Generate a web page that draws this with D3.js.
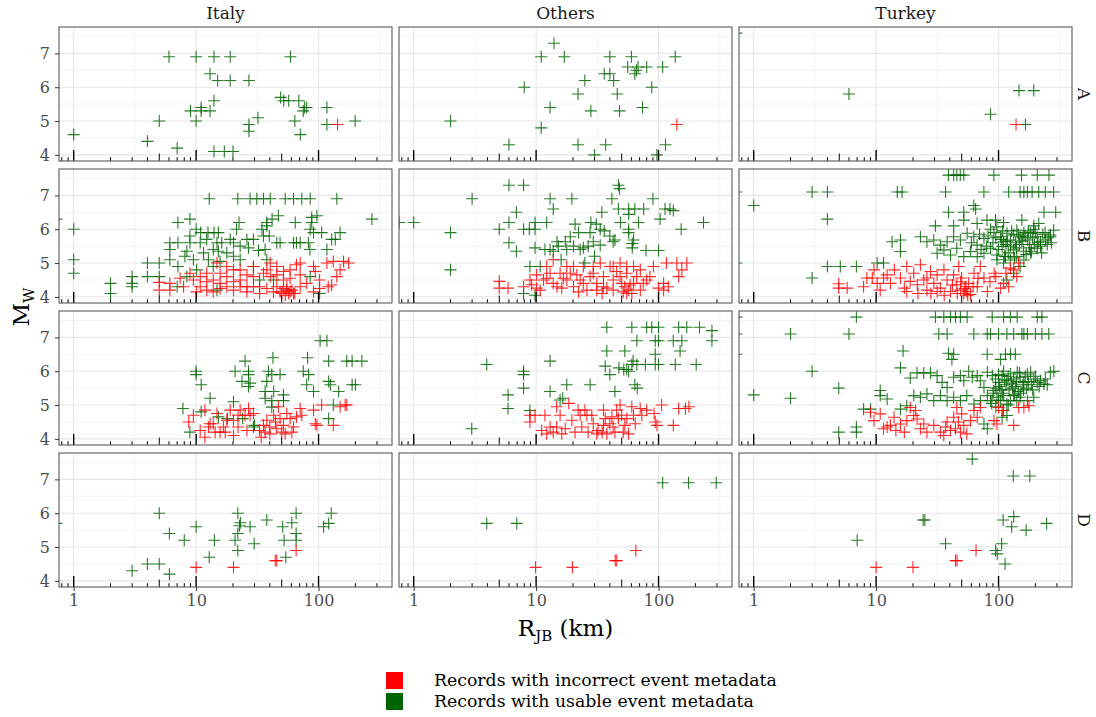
<!DOCTYPE html>
<html>
<head>
<meta charset="utf-8">
<script src="https://cdn.jsdelivr.net/npm/d3@7"></script>
<style>
  body { margin: 0; background: #fff; }
  svg text { font-family: "DejaVu Serif", serif; }
</style>
</head>
<body>
<script>
// facets
var regions = ["Italy", "Others", "Turkey"];
var classes = ["A", "B", "C", "D"];
var xTickValues = [1, 10, 100];
var yTickValues = [4, 5, 6, 7];
var legendLabels = ["Records with incorrect event metadata", "Records with usable event metadata"];
var legendColors = ["#ff0000", "#006400"];

// [R_JB km, Mw]
var italyA_usable = [[1,4.6],[6,6.9],[10,6.9],[14,6.9],[19,6.9],[59,6.9],[13,6.4],[15,6.2],[19,6.2],[27,6.2],[14,5.6],[9,5.3],[11,5.4],[11,5.3],[13,5.3],[5,5.0],[10,5.0],[4,4.4],[7,4.2],[14,4.1],[17,4.1],[20,4.1],[27,4.9],[27,4.7],[32,5.1],[49,5.7],[52,5.6],[57,5.6],[69,5.6],[75,5.3],[80,5.4],[77,5.4],[64,5.0],[71,4.6],[117,5.4],[117,4.9],[199,5.0]];
var italyA_incorrect = [[143,4.9]];

var othersA_usable = [[14,7.3],[11,6.9],[17,6.9],[40,6.9],[60,6.9],[137,6.9],[56,6.6],[68,6.6],[66,6.5],[64,6.4],[80,6.6],[108,6.6],[36,6.4],[40,6.4],[43,6.2],[25,6.2],[8,6.0],[88,6.0],[22,5.8],[46,5.8],[13,5.4],[28,5.3],[48,5.3],[74,5.4],[2,5.0],[11,4.8],[6,4.3],[22,4.3],[37,4.3],[114,4.3],[30,4.0],[97,4.0]];
var othersA_incorrect = [[141,4.9]];

var turkeyA_usable = [[0.72,7.6],[6,5.8],[147,5.9],[194,5.9],[86,5.2],[166,4.9]];
var turkeyA_incorrect = [[139,4.9]];

var italyB_usable = [[1,6.0],[1,5.1],[1,4.7],[0.72,6.3],[2,4.4],[2,4.1],[3,4.6],[3,4.4],[3,4.3],[4,4.6],[4,5.0],[5,5.0],[6.1,5.6],[7.1,5.6],[6.1,5.4],[6.1,5.1],[7.1,6.2],[8.9,6.3],[8.9,5.8],[8.1,5.2],[7.1,4.9],[5,4.6],[10,6.0],[10.9,5.9],[12.5,5.9],[14,5.9],[15.2,5.9],
  [12.8,6.9],[21.9,6.9],[27.6,6.9],[31.3,6.9],[35.5,6.9],[40.3,6.9],[53.4,6.9],[62.5,6.9],[73,6.9],[85.5,6.9],[141,6.9],[273,6.3],
  [47,6.4],[97,6.4],[88,6.35],[22.4,6.2],[37.8,6.2],[41.7,6.3],[64.5,6.2],[88,6.2],
  [21.4,6.0],[34.5,6.0],[37.8,6.1],[85.5,6.0],[91,5.9],[106,5.9],[150,5.9],
  [26,5.7],[29.4,5.7],[35.5,5.8],[39.6,5.8],[45.6,5.6],[48.5,5.6],[62.5,5.6],[66,5.6],[70.8,5.6],[82.6,5.6],[128,5.7],[137,5.7],[85,5.4],[117,5.4],
  [10.8,5.6],[12.2,5.7],[14.8,5.6],[16.2,5.6],[19,5.7],[20.2,5.6],[22.9,5.5],[26.8,5.45],[13.8,5.4],[11.5,5.3],[15.2,5.35],[17.8,5.3],[20.2,5.2],[9.5,5.1],[12.6,5.1],[15.7,5.05],[32.3,5.37],[36.6,5.4],[8.4,5.35],[8.9,5.6],
  [8.4,4.6],[10.1,4.8],[7,4.3],[13.8,4.9],[22.9,5.1],[29.4,4.9],[37.8,5.1],[85.5,4.6],[102,4.1],[42.8,4.5],[33,4.5],[14.8,4.2]];
var italyB_incorrect = [[5,4.43],[5,4.2],[6.1,4.4],[6.1,4.2],[7.9,4.3],[9.5,4.5],[10.8,4.6],[12.2,4.7],[13.8,4.5],[15.7,4.4],[17.8,4.6],[20.2,4.8],[22.9,4.5],[26,4.3],[29.4,4.6],[33,4.3],[37.8,4.8],[40.3,5.0],[45.6,4.9],[51.7,4.5],[55,4.2],[58.6,4.8],[62.5,4.1],[66,4.95],[70.8,5.0],[91,4.9],[117,5.0],[132,5.05],[160,5.05],[176,5.0],[150,4.8],[141,4.6],[102,4.5],[120,4.3],[128,4.35],[94,4.75],
  [45.6,4.3],[48.5,4.15],[50,4.1],[51.7,4.25],[53.4,4.05],[55,4.3],[57,4.1],[58.6,4.15],[60.5,4.2],[64,4.1],
  [10.8,4.3],[12.2,4.2],[13.8,4.15],[15.7,4.25],[17.8,4.3],[20.2,4.2],[22.9,4.3],[26,4.15],[29.4,4.3],[33,4.1],[37.8,4.25],[42.8,4.15],[20.2,4.45],[15.7,4.7],[12.2,4.45],[26,4.65],[29.4,4.9],[22.9,4.8],[17.8,4.9],[14.8,5.0],[35.5,4.7],[40.3,4.6],[45.6,4.65],[51.7,4.75],[58.6,4.55],[70.8,4.65],[80,4.4],[70.8,4.3],[91,4.15],[102,4.25],[8.9,4.7],[7.4,4.55],[10.1,4.15]];

var othersB_usable = [[0.76,6.2],[1,6.2],[2,5.9],[2,4.8],[3,6.9],[6,7.3],[7.9,7.3],[13,6.9],[19.6,6.9],[41.6,6.9],[47,7.3],[48,7.2],[90,6.9],[6.9,6.5],[13.8,6.6],[34.4,6.5],[47,6.6],[57,6.6],[64,6.6],[75.6,6.6],[113,6.6],[124,6.6],[132,6.55],[57,6.44],[103,6.3],[233,6.2],[153,6.0],
  [6,6.2],[9.8,6.2],[12.2,6.2],[5,6.0],[7.9,6.0],[8.8,6.0],[9.8,6.0],[20.8,6.15],[28,6.2],[31,6.15],[48.9,6.2],[68.6,6.2],[57,6.0],[33.4,6.0],[27.6,5.9],[22.2,5.9],[36,5.95],[40,5.8],
  [6,5.6],[6.9,5.35],[9.8,5.45],[11.8,5.4],[13,5.4],[14.8,5.63],[17.3,5.63],[19,5.78],[15.2,5.5],[20.2,5.5],[13.8,5.35],[17.8,5.4],[22.9,5.4],[24.3,5.45],[26.6,5.5],[29.3,5.63],[33.4,5.53],[42.6,5.63],[61,5.58],[61,5.45],[79,5.37],[100,5.37],[44,5.68],[62.6,5.68],[57,5.9],
  [8.9,4.9],[10.8,4.9],[7.9,4.1],[9.8,4.05],[16,5.1],[30,5.2],[25,5.0]];
var othersB_incorrect = [[5,4.46],[5,4.26],[5.9,4.26],[7.9,4.3],[8.9,4.5],[10.1,4.65],[10.8,4.2],[11.5,4.5],[13,4.7],[14.8,4.3],[16.7,4.55],[17.8,4.9],[13.8,5.1],[19,4.7],[20.2,4.3],[22.9,4.5],[24.3,4.9],[26,4.2],[29.3,4.7],[31.3,4.4],[33.4,5.0],[35.5,4.6],[37.8,4.26],[40.2,4.9],[42.6,4.5],[45.5,4.75],[48.5,5.0],[50,4.4],[51.5,4.15],[53,4.3],[55,4.1],[57,4.2],[58.6,4.35],[60.5,4.1],[62.5,4.9],[66.2,4.6],[71,4.2],[80,4.5],[90.8,4.9],[100,4.26],[110,4.4],[120,4.3],[116,5.0],[141,5.0],[155,4.8],[170,5.0],[146,4.6],[110,4.2],
  [9.2,4.36],[10.1,4.26],[12.2,4.55],[13.8,4.4],[15.7,4.7],[17.8,4.5],[21.5,4.65],[24.3,4.4],[27.6,4.6],[31.3,4.2],[35.5,4.3],[42.6,4.2],[48.5,4.6],[55,4.7],[62.5,4.4],[71,4.8],[75,4.4],[85,4.6],[12.2,4.9],[20.2,4.9],[29.3,4.9],[42.6,4.9],[55,4.9],[16.2,4.26],[22.2,4.15],[34.6,4.1]];

var turkeyB_usable = [[0.72,7.1],[0.72,5.0],[1,6.7],[3,7.1],[4,7.1],[4,6.3],[3,4.56],[4,4.9],[5.1,4.9],[6.9,4.9],[10.2,5.0],[11.5,5.0],[14.9,7.1],[16.3,7.1],
  [39,7.6],[43,7.6],[45.6,7.6],[48.7,7.6],[52,7.6],[91.6,7.6],[154,7.6],[207,7.6],[258,7.6],
  [36.9,7.1],[75.9,7.1],[121,7.1],[150,7.1],[161,7.1],[172,7.1],[188,7.1],[213,7.1],[241,7.1],[282,7.1],
  [62.8,6.7],[65,6.6],[39,6.5],[52,6.5],[235,6.5],[293,6.5],
  [30.5,6.1],[43,6.1],[52,6.27],[66.8,6.17],[80.5,6.27],[94.5,6.27],[110,6.2],[155,6.27],[194,6.1],[213,6.17],[282,5.97],[265,5.83],
  [13.5,5.63],[15.8,5.68],[15.8,5.34],[23,5.78],[26,5.63],[29.6,5.68],[33.5,5.53],[38,5.63],[43,5.78],[48.8,5.68],[55.4,5.88],[62.8,5.78],[66.8,5.53],[76,5.73],[86,6.0],[91.7,5.9],[97,6.07],[104,5.78],[110,5.63],[117,5.88],[125,5.68],[133,5.83],[141,5.97],[150,5.78],[161,5.9],[172,5.68],[183,5.88],[194,6.0],[207,5.78],[220,5.63],[241,5.68],[265,5.78],[220,5.5],
  [31.5,5.29],[35.8,5.39],[40.5,5.24],[45.6,5.44],[52,5.19],[59,5.34],[67,5.19],[76,5.29],[86,5.44],[97,5.24],[107,5.49],[114,5.19],[125,5.09],[133,5.39],[141,5.19],[161,5.09],[183,5.29],[207,5.44],[97,5.1],[110,5.0],[150,4.9],[133,4.7],[117,4.5],
  [105,5.7],[115,5.55],[128,5.95],[138,5.6],[145,5.85],[155,5.65],[165,5.8],[178,5.55],[190,5.75],[200,5.9],[230,5.85],[250,5.55],[120,5.3],[140,5.45],[160,5.35],[180,5.45],[100,5.4],[90,5.6],[80,5.5],[70,5.85],
  [112,5.2],[125,5.5],[135,5.15],[148,5.55],[158,5.75],[168,5.25],[175,5.95],[186,5.35],[196,5.55],[210,5.6],[225,5.3],[240,5.9],[255,5.75],[270,5.6],[108,5.95],[118,5.65],[82,5.8],[95,5.75],[72,5.4],[60,5.6]];
var turkeyB_incorrect = [[4.95,4.39],[4.95,4.26],[5.8,4.26],[7.9,4.3],[9.3,4.56],[10.2,4.4],[10.8,4.2],[12.3,4.65],[13.1,4.4],[14.1,4.8],[15.8,4.56],[17,4.26],[17.8,4.9],[19,4.46],[20.3,4.7],[21.7,4.36],[23,4.95],[24.5,4.5],[26,4.2],[27.8,4.75],[29.6,4.4],[31.5,4.65],[33.5,4.26],[35.8,4.8],[38,4.5],[40.5,4.16],[43,4.65],[45.6,4.36],[47.3,4.9],[48.8,4.2],[50,4.56],[52,4.1],[54,4.3],[55,4.16],[57,4.4],[59,4.07],[63,4.7],[67,4.3],[71,4.9],[76,4.56],[81,4.16],[92,4.7],[104,4.26],[110,4.4],[121,4.3],[133,4.8],[146,5.0],[141,4.6],[8.4,4.56],[9.6,4.8],[11.5,4.56],[26,4.56],[31.5,4.16],[17.8,4.16],
  [36,4.05],[42,4.35],[46,4.1],[49,4.45],[53,4.25],[56,4.05],[62,4.3],[28,4.1],[22,4.1],[68,4.55],[85,4.45],[95,4.6],[115,4.7],[125,4.85]];

var italyC_usable = [[103,6.9],[117,6.9],[121,6.3],[170,6.3],[188,6.3],[226,6.3],[25.1,6.3],[42.4,6.4],[81.3,6.4],
  [10,6.0],[10,5.9],[20.8,6.0],[26.8,6.0],[26.8,5.9],[23.7,5.7],[27.6,5.65],[26.8,5.55],[37.8,5.7],[39,6.0],[41.5,5.9],[48.5,5.9],[75,6.0],[83,5.9],[80,5.6],[91,5.4],[121,5.7],[125,5.6],[146,5.4],[188,5.6],[200,5.6],
  [11,5.6],[13,5.2],[20.2,5.1],[36.6,5.4],[43,5.4],[51.7,5.3],[36.6,5.2],[41.5,5.13],[51.7,5.13],[41.5,4.94],[132,5.0],[121,4.6],[7.8,4.9],[11,4.8],[8.9,4.2],[15.2,4.65],[29.4,4.35],[18,4.6],[30,4.4],[24,4.6]];
var italyC_incorrect = [[8.7,4.5],[9.5,4.7],[10.8,4.25],[11.8,4.05],[12.6,4.35],[13.8,4.45],[14.8,4.75],[15.7,4.2],[16.7,4.35],[19,4.85],[20.2,4.55],[22,4.7],[22.9,4.85],[25.1,4.7],[26.8,4.9],[27.6,4.7],[29.4,4.75],[26,4.25],[20.2,4.1],[22,4.35],[33,4.25],[34,4.05],[35.5,4.4],[36.6,4.2],[37.8,4.55],[40,4.35],[40,4.15],[43,4.7],[44.5,4.5],[45.6,4.3],[47,4.95],[48.5,4.6],[50,4.2],[51.7,4.4],[53.4,4.15],[55,4.75],[58.6,4.6],[60.6,4.2],[62.5,4.35],[66,4.65],[70.8,4.9],[73,4.7],[91,4.85],[94,4.45],[97,4.4],[106,5.0],[132,4.4],[150,4.95],[165,5.0],[170,5.0],[11.8,4.85],[13,4.45],[14.3,4.2],[17.3,4.2],[17.8,4.55]];

var othersC_usable = [[2.98,4.3],[3.95,6.2],[5.9,5.3],[5.9,4.9],[7.9,6.0],[7.9,5.9],[7.9,5.5],[13,6.3],[13,5.4],[8.9,4.84],[15.7,5.15],[16.5,5.2],[17.8,5.6],[27.6,5.6],[44,5.4],[64,5.6],[67,5.5],
  [37.8,7.3],[60.5,7.3],[80,7.3],[88,7.3],[100,7.3],[146,7.3],[170,7.3],[216,7.3],[273,7.2],[273,6.9],
  [66.5,6.9],[94,6.9],[100,6.9],[132,6.9],[155,6.9],
  [37.8,6.6],[53,6.6],[94,6.5],[150,6.6],
  [36.7,6.15],[40,5.9],[47.5,6.1],[52,6.05],[55,6.05],[57,6.0],[60.5,6.2],[66.5,6.2],[78,6.2],[94,6.2],[100,6.2],[137,6.2],[203,6.2],[62,6.3]];
var othersC_incorrect = [[8.9,4.7],[8.9,4.5],[9.8,4.7],[11.1,4.25],[11.8,4.7],[12.2,4.15],[13,4.35],[13.8,4.2],[14.7,4.35],[14.7,4.95],[15.7,4.7],[16.2,4.15],[17.3,4.3],[18.5,5.05],[19.6,4.55],[20.8,4.2],[22,4.85],[22.9,4.7],[23.6,4.35],[25,4.85],[26,4.7],[26.6,4.2],[28.5,4.7],[29.3,4.45],[32,4.25],[34.6,4.2],[35.5,4.85],[35.5,4.4],[36.7,4.6],[37.8,4.15],[40,4.45],[41.6,4.65],[42.6,4.35],[44,4.2],[45.5,4.85],[47,4.6],[48.5,5.0],[50,4.7],[51.5,4.2],[53,4.4],[55,4.6],[56.9,4.15],[60.5,4.95],[62.5,4.7],[64.5,4.45],[70.8,4.9],[73,4.7],[80,4.85],[94,4.5],[97,4.4],[106,5.0],[132,4.4],[146,4.9],[166,4.9],[177,4.95],[92,4.75],[31.3,4.15]];

var turkeyC_usable = [[0.72,7.6],[0.72,7.1],[0.72,6.5],[1,5.3],[2,5.2],[2,7.1],[3,6.0],[4.95,5.5],[4.95,4.2],[6.9,4.35],[6.9,4.2],[6.9,7.6],[6,7.1],[16.6,6.6],[15.8,6.1],
  [30.5,7.6],[35.7,7.6],[40.5,7.6],[44.5,7.6],[48.8,7.6],[55.4,7.6],[88.8,7.6],[110,7.6],[125,7.6],[142,7.6],[207,7.6],[226,7.6],
  [32.5,7.1],[38,7.1],[62.8,7.1],[80.8,7.1],[86,7.1],[100,7.1],[117,7.1],[133,7.1],[155,7.1],[161,7.1],[172,7.1],[200,7.1],[226,7.1],[257,7.1],
  [39,6.53],[43,6.5],[41.6,6.35],[80.8,6.5],[104,6.35],[114,6.5],[125,6.5],[137,6.5],[283,6.0],
  [19,5.8],[21.6,5.95],[24.5,5.95],[27.8,5.95],[31.5,5.87],[34.6,5.67],[38,5.52],[43,5.82],[48.8,5.87],[52,5.72],[57,6.0],[61,5.82],[67,5.87],[71,5.72],[76,5.52],[81,5.97],[89,5.87],[94.5,5.77],[100,5.67],[107,5.87],[110,6.0],[117,5.72],[125,5.92],[133,5.77],[142,5.97],[150,5.82],[161,5.67],[172,5.92],[183,5.97],[194,5.77],[207,5.67],[220,5.72],[235,5.62],[241,5.77],[265,5.97],
  [10.8,5.43],[10.8,5.28],[12.3,5.18],[7.9,4.88],[9,4.88],[15.8,4.88],[17.8,4.98],[20.3,5.28],[23,5.23],[26,5.33],[29.6,5.13],[33.5,5.28],[38,5.13],[43,5.23],[48.8,5.13],[55,5.28],[63,5.03],[71,5.13],[81,5.28],[86,5.13],[91.7,5.43],[97,5.23],[104,5.13],[110,5.28],[117,5.03],[125,5.13],[133,5.28],[141,5.13],[150,5.23],[172,5.13],[194,5.23],[110,4.84],[117,4.69],[107,4.64],[76,4.44],[81,4.3],
  [95,5.5],[105,5.45],[115,5.6],[130,5.5],[145,5.4],[120,5.85],[140,5.7],[170,5.5],[185,5.6],[100,5.9],[90,5.35],[160,5.45],
  [102,5.55],[108,5.35],[112,5.75],[122,5.45],[128,5.65],[135,5.3],[138,5.55],[148,5.95],[152,5.35],[158,5.6],[165,5.85],[175,5.7],[190,5.45],[200,5.85],[215,5.55],[250,5.6],[100,5.15],[120,5.0],[95,4.95],[88,5.05]];
var turkeyC_incorrect = [[9.6,4.54],[9,4.79],[10.8,4.74],[11.5,4.3],[12.3,4.35],[13.1,4.4],[14,4.64],[14.5,4.25],[15.8,4.44],[17,4.2],[17.8,4.54],[19,4.93],[20.3,4.69],[21,4.84],[21.6,4.59],[23,4.3],[24.5,4.44],[26,4.2],[29.6,4.4],[33.5,4.2],[35.7,4.1],[37,4.35],[38,4.5],[40.5,4.25],[43,4.64],[44.5,4.3],[45.6,4.93],[47,4.5],[48.8,4.2],[50,4.74],[52,4.4],[55,4.15],[59,4.54],[63,4.84],[67,4.64],[71,4.93],[91.7,4.54],[97,4.44],[100,4.93],[107,4.84],[133,4.4],[146,4.93],[161,4.93],[177,4.98]];

var italyD_usable = [[0.72,5.7],[3,4.3],[4,4.5],[5,4.5],[6.05,4.2],[5,6.0],[6.05,5.4],[8,5.2],[10,5.6],[12.8,4.7],[14.1,5.2],[20.8,5.2],[21.9,6.0],[21.9,5.4],[22.6,5.63],[23,5.72],[21.9,4.9],[27.6,5.6],[29.8,5.1],[37.8,5.8],[51,5.6],[60.5,5.72],[52.3,5.2],[54,4.7],[65.6,6.0],[65.6,5.4],[65.6,5.2],[110,5.6],[121,5.7],[127,6.0]];
var italyD_incorrect = [[10,4.4],[20.2,4.4],[44.3,4.6],[45.6,4.6],[65.6,4.9]];

var othersD_usable = [[3.95,5.7],[6.95,5.7],[108,6.9],[176,6.9],[296,6.9]];
var othersD_incorrect = [[9.9,4.4],[19.8,4.4],[44.3,4.6],[45.6,4.6],[65.3,4.9]];

var turkeyD_usable = [[61,7.6],[132,7.1],[180,7.1],[24.2,5.8],[25,5.8],[7,5.2],[109,5.8],[133,5.9],[128,5.6],[168,5.5],[247,5.7],[36.9,5.1],[106,5.1],[94.6,4.9],[97.5,4.8],[113,4.5]];
var turkeyD_incorrect = [[10,4.4],[20,4.4],[44.5,4.6],[45.8,4.6],[65.5,4.9]];

var panelData = {
  Italy:  {A: [italyA_usable, italyA_incorrect], B: [italyB_usable, italyB_incorrect], C: [italyC_usable, italyC_incorrect], D: [italyD_usable, italyD_incorrect]},
  Others: {A: [othersA_usable, othersA_incorrect], B: [othersB_usable, othersB_incorrect], C: [othersC_usable, othersC_incorrect], D: [othersD_usable, othersD_incorrect]},
  Turkey: {A: [turkeyA_usable, turkeyA_incorrect], B: [turkeyB_usable, turkeyB_incorrect], C: [turkeyC_usable, turkeyC_incorrect], D: [turkeyD_usable, turkeyD_incorrect]}
};

var w = 1096, h = 717;
var mLeft = 59, mTop = 27, pw = 333, ph = 134, gx = 7, gy = 8;

var svg = d3.select("body").append("svg")
    .attr("width", w).attr("height", h)
    .style("background", "#fff");

var x = d3.scaleLog().domain([Math.pow(10, -0.12), Math.pow(10, 2.6)]).range([0, pw]);
var y = d3.scaleLinear().domain([3.82, 7.78]).range([ph, 0]);

var minorX = [Math.pow(10, 0.5), Math.pow(10, 1.5), Math.pow(10, 2.5)];
var minorY = [4.5, 5.5, 6.5, 7.5];

// annotation_logticks values
var logTicks = [];
[0.1, 1, 10, 100].forEach(function (p) {
  for (var k = 1; k <= 9; k++) logTicks.push({v: k * p, k: k});
});
logTicks = logTicks.filter(function (d) { return d.v >= x.domain()[0] && d.v <= x.domain()[1]; });

var cross = "M-6,0H6M0,-6V6";

classes.forEach(function (cls, row) {
  regions.forEach(function (reg, col) {
    var px = mLeft + col * (pw + gx), py = mTop + row * (ph + gy);
    var g = svg.append("g").attr("transform", "translate(" + px + "," + py + ")");
    var clipId = "clip-" + reg + cls;
    g.append("clipPath").attr("id", clipId)
      .append("rect").attr("width", pw).attr("height", ph);

    // grid
    g.selectAll(".gminy").data(minorY).enter().append("line")
      .attr("x1", 0).attr("x2", pw).attr("y1", y).attr("y2", y)
      .attr("stroke", "#ebebeb").attr("stroke-width", 0.6);
    g.selectAll(".gminx").data(minorX).enter().append("line")
      .attr("y1", 0).attr("y2", ph).attr("x1", x).attr("x2", x)
      .attr("stroke", "#ebebeb").attr("stroke-width", 0.6);
    g.selectAll(".gmajy").data(yTickValues).enter().append("line")
      .attr("x1", 0).attr("x2", pw).attr("y1", y).attr("y2", y)
      .attr("stroke", "#e6e6e6").attr("stroke-width", 1.1);
    g.selectAll(".gmajx").data(xTickValues).enter().append("line")
      .attr("y1", 0).attr("y2", ph).attr("x1", x).attr("x2", x)
      .attr("stroke", "#e6e6e6").attr("stroke-width", 1.1);

    var pts = g.append("g").attr("clip-path", "url(#" + clipId + ")");
    var sets = panelData[reg][cls];
    [[sets[0], legendColors[1]], [sets[1], legendColors[0]]].forEach(function (s) {
      pts.selectAll(null).data(s[0]).enter().append("path")
        .attr("d", cross)
        .attr("transform", function (d) { return "translate(" + x(d[0]) + "," + y(d[1]) + ")"; })
        .attr("stroke", s[1]).attr("stroke-width", 1.1).attr("fill", "none")
        .attr("opacity", 0.85);
    });

    // log ticks along the bottom
    g.append("g").attr("clip-path", "url(#" + clipId + ")")
      .selectAll("line").data(logTicks).enter().append("line")
      .attr("x1", function (d) { return x(d.v); }).attr("x2", function (d) { return x(d.v); })
      .attr("y1", ph)
      .attr("y2", function (d) { return ph - (d.k === 1 ? 11 : d.k === 5 ? 7.5 : 3.8); })
      .attr("stroke", "#000").attr("stroke-width", function (d) { return d.k === 1 ? 1.4 : 1; });

    g.append("rect").attr("width", pw).attr("height", ph)
      .attr("fill", "none").attr("stroke", "#5a5a5a").attr("stroke-width", 1.1);

    if (col === 0) {
      var ya = g.append("g").call(d3.axisLeft(y).tickValues(yTickValues).tickFormat(d3.format("d")).tickSize(4).tickPadding(5));
      ya.select(".domain").remove();
      ya.attr("font-family", null).attr("font-size", null);
      ya.selectAll("line").attr("stroke", "#333");
      ya.selectAll("text").attr("fill", "#4d4d4d").style("font-size", "16px");
    }
    if (row === classes.length - 1) {
      var xa = g.append("g").attr("transform", "translate(0," + ph + ")")
        .call(d3.axisBottom(x).tickValues(xTickValues).tickFormat(d3.format("d")).tickSize(4).tickPadding(4));
      xa.select(".domain").remove();
      xa.attr("font-family", null).attr("font-size", null);
      xa.selectAll("line").attr("stroke", "#333");
      xa.selectAll("text").attr("fill", "#4d4d4d").style("font-size", "16px");
    }
    if (row === 0) {
      svg.append("text").attr("x", px + pw / 2).attr("y", 19)
        .attr("text-anchor", "middle").style("font-size", "17px").attr("fill", "#1a1a1a")
        .text(reg);
    }
    if (col === regions.length - 1) {
      svg.append("text")
        .attr("transform", "translate(" + (px + pw + 6) + "," + (py + ph / 2) + ") rotate(90)")
        .attr("text-anchor", "middle").style("font-size", "17px").attr("fill", "#1a1a1a")
        .text(cls);
    }
  });
});

// axis titles
var xt = svg.append("text").attr("x", mLeft + (3 * pw + 2 * gx) / 2).attr("y", 636)
  .attr("text-anchor", "middle").style("font-size", "23px").attr("fill", "#000");
xt.append("tspan").text("R");
xt.append("tspan").attr("dy", 5).style("font-size", "15px").text("JB");
xt.append("tspan").attr("dy", -5).text(" (km)");

var yt = svg.append("text")
  .attr("transform", "translate(29," + (mTop + (4 * ph + 3 * gy) / 2) + ") rotate(-90)")
  .attr("text-anchor", "middle").style("font-size", "23px").attr("fill", "#000");
yt.append("tspan").text("M");
yt.append("tspan").attr("dy", 5).style("font-size", "15px").text("W");

// legend
var leg = svg.append("g").attr("transform", "translate(386,672)");
var item = leg.selectAll("g").data(legendLabels).enter().append("g")
  .attr("transform", function (d, i) { return "translate(0," + i * 21 + ")"; });
item.append("rect").attr("width", 17).attr("height", 17)
  .attr("fill", function (d, i) { return legendColors[i]; });
item.append("text").attr("x", 48).attr("y", 14)
  .style("font-size", "17.3px").attr("fill", "#000")
  .text(function (d) { return d; });
</script>
</body>
</html>
